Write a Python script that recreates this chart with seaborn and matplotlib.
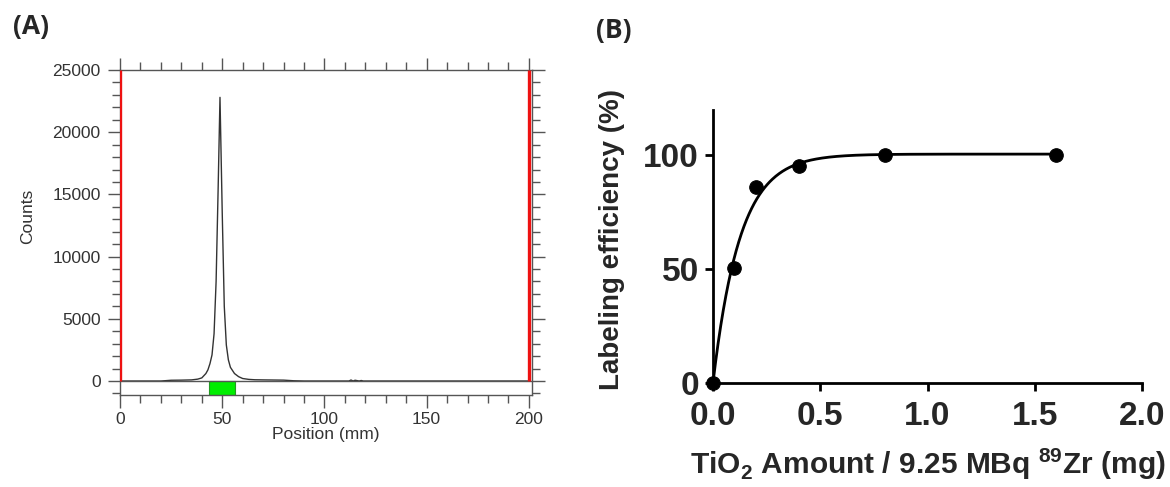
import numpy as np
import pandas as pd
import matplotlib
matplotlib.use('Agg')
import matplotlib.pyplot as plt
import seaborn as sns
from matplotlib.ticker import MultipleLocator

# ---- panel A: radio-TLC scan ----
position_mm = [0, 20, 25, 30, 35, 38, 40, 42, 43, 44, 45, 46, 47, 48, 48.9, 50, 51, 52, 53,
               54, 56, 58, 60, 63, 66, 70, 75, 80, 85, 90, 112, 113, 114, 115, 117, 118,
               119, 150, 200]
counts = [0, 0, 60, 70, 90, 150, 250, 600, 900, 1400, 2100, 3800, 8000, 15500, 22800, 13500,
          6000, 2900, 1700, 1100, 600, 350, 200, 130, 100, 90, 80, 70, 20, 0, 0, 80, 0, 60,
          0, 40, 0, 0, 0]
roi_mm = [43.7, 56.4]
limits_mm = [0, 200]

# ---- panel B: labeling efficiency ----
tio2_mg = [0, 0.1, 0.2, 0.4, 0.8, 1.6]
efficiency = [0, 50.5, 86, 95.5, 100, 100]

sns.set_theme(style='ticks')
plt.rcParams['font.family'] = ['Liberation Sans', 'DejaVu Sans']
plt.rcParams['mathtext.fontset'] = 'custom'
plt.rcParams['mathtext.rm'] = 'Liberation Sans:bold'
plt.rcParams['mathtext.bf'] = 'Liberation Sans:bold'

fig = plt.figure(figsize=(11.7, 4.87), dpi=100)
axA = fig.add_axes([0.1026, 0.1889, 0.352, 0.6674])
axB = fig.add_axes([0.6094, 0.2136, 0.3667, 0.5606])

# panel A
grey = '#555555'
scan = pd.DataFrame({'Position': position_mm, 'Counts': counts})
sns.lineplot(data=scan, x='Position', y='Counts', ax=axA, color='#333333', linewidth=1.0)
axA.axhline(0, color=grey, linewidth=1.0)
axA.vlines(limits_mm, 0, 25000, color='#ee1111', linewidth=2.4, zorder=4)
axA.axvspan(roi_mm[0], roi_mm[1], ymin=0, ymax=1125 / 26125, facecolor='#00ee00',
            edgecolor='#229922', linewidth=0.8)
axA.set_xlim(0, 201.5)
axA.set_ylim(-1125, 25000)
axA.xaxis.set_major_locator(MultipleLocator(50))
axA.xaxis.set_minor_locator(MultipleLocator(10))
axA.yaxis.set_major_locator(MultipleLocator(5000))
axA.yaxis.set_minor_locator(MultipleLocator(1000))
axA.tick_params(which='both', direction='out', color=grey, width=1.0,
                top=True, right=True, labelsize=12.5, labelcolor='#333333', pad=3)
axA.tick_params(axis='y', pad=5)
axA.tick_params(which='major', length=9)
axA.tick_params(which='minor', length=6)
for sp in axA.spines.values():
    sp.set_color(grey)
    sp.set_linewidth(1.0)
axA.set_xlabel('Position (mm)', fontsize=12.5, color='#333333', labelpad=0)
axA.set_ylabel('Counts', fontsize=12.5, color='#333333')
axA.yaxis.set_label_coords(-0.205, 0.55)

# panel B: one-phase association fit
xb = np.array(tio2_mg)
yb = np.array(efficiency)
best = None
for k in np.linspace(1, 30, 5801):
    f = 1 - np.exp(-k * xb)
    ymax = np.sum(yb * f) / np.sum(f * f)
    sse = np.sum((yb - ymax * f) ** 2)
    if best is None or sse < best[0]:
        best = (sse, k, ymax)
_, k_fit, ymax_fit = best
xfit = np.linspace(0, max(tio2_mg), 400)
fit = pd.DataFrame({'x': xfit, 'y': ymax_fit * (1 - np.exp(-k_fit * xfit))})
pts = pd.DataFrame({'x': tio2_mg, 'y': efficiency})
sns.lineplot(data=fit, x='x', y='y', ax=axB, color='black', linewidth=2.0)
sns.scatterplot(data=pts, x='x', y='y', ax=axB, color='black', s=95, edgecolor='black',
                zorder=5, clip_on=False)
axB.set_xlim(0, 2.0)
axB.set_ylim(0, 120)
axB.set_xticks([0, 0.5, 1.0, 1.5, 2.0])
axB.set_xticklabels(['0.0', '0.5', '1.0', '1.5', '2.0'])
axB.set_yticks([0, 50, 100])
for sp in ['top', 'right']:
    axB.spines[sp].set_visible(False)
for sp in ['left', 'bottom']:
    axB.spines[sp].set_linewidth(2.0)
    axB.spines[sp].set_color('black')
axB.tick_params(direction='out', length=6, width=2.0, color='black', labelsize=24)
axB.tick_params(axis='x', pad=7)
axB.tick_params(axis='y', pad=4)
for lab in axB.get_xticklabels() + axB.get_yticklabels():
    lab.set_fontweight('bold')
axB.set_xlabel(r'TiO$_{2}$ Amount / 9.25 MBq $^{89}$Zr (mg)', fontsize=21.5,
               fontweight='bold', labelpad=10)
axB.set_ylabel('Labeling efficiency (%)', fontsize=20, fontweight='bold')
axB.yaxis.set_label_coords(-0.205, 0.525)

fig.text(0.011, 0.945, '(A)', fontsize=19, fontweight='bold',
         family=['Open Sans', 'DejaVu Sans'], va='center')
fig.text(0.509, 0.937, '(B)', fontsize=19, fontweight='bold',
         family=['Open Sans', 'DejaVu Sans'], va='center')

fig.savefig('out.png', dpi=100, facecolor='white')
